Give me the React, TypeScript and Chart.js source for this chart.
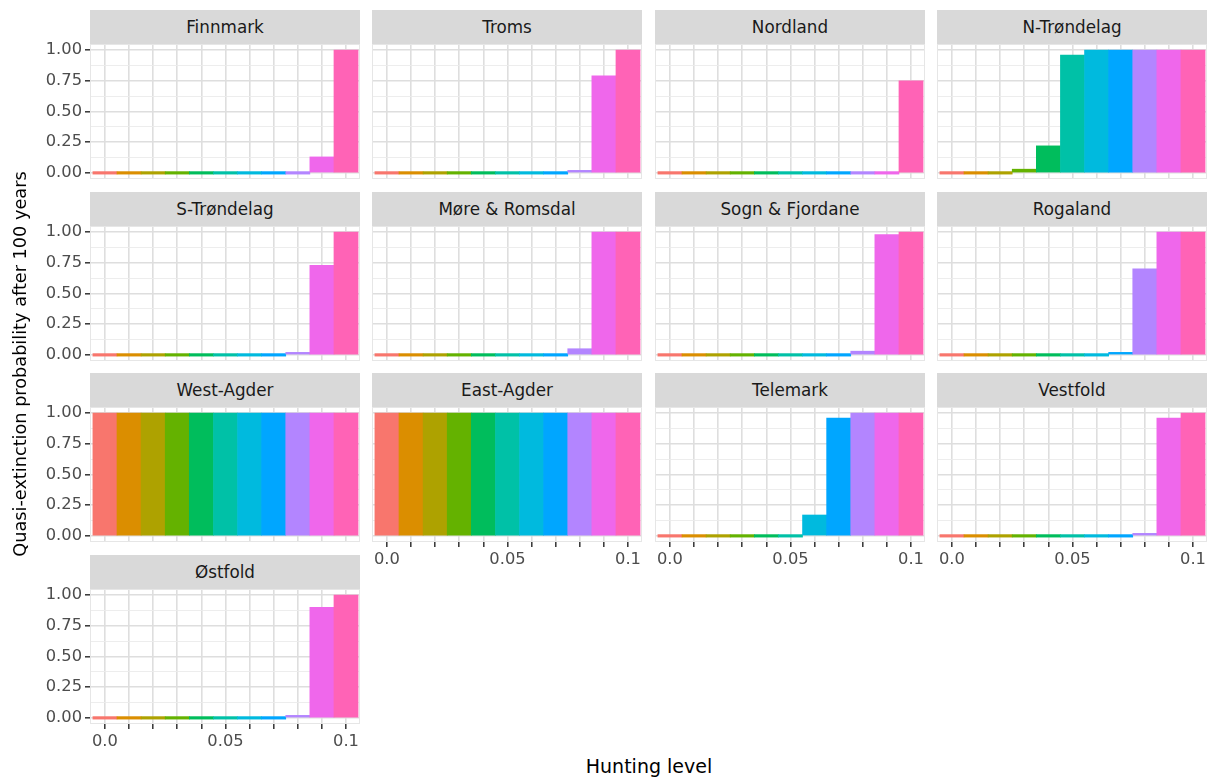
import React, { useEffect, useRef } from "react";
import { Chart, registerables } from "chart.js";

Chart.register(...registerables);

// ---------- data ----------
const LEVELS = [0, 0.01, 0.02, 0.03, 0.04, 0.05, 0.06, 0.07, 0.08, 0.09, 0.1];
const COLORS = [
  "#F8766D", "#DB8E00", "#AEA200", "#64B200", "#00BD5C", "#00C1A7",
  "#00BADE", "#00A6FF", "#B385FF", "#EF67EB", "#FF63B6",
];

const finnmark = [0, 0, 0, 0, 0, 0, 0, 0, 0, 0.13, 1.0];
const troms = [0, 0, 0, 0, 0, 0, 0, 0, 0.02, 0.79, 1.0];
const nordland = [0, 0, 0, 0, 0, 0, 0, 0, 0, 0, 0.75];
const nTrondelag = [0, 0, 0, 0.03, 0.22, 0.96, 1.0, 1.0, 1.0, 1.0, 1.0];
const sTrondelag = [0, 0, 0, 0, 0, 0, 0, 0, 0.02, 0.73, 1.0];
const moreRomsdal = [0, 0, 0, 0, 0, 0, 0, 0, 0.05, 1.0, 1.0];
const sognFjordane = [0, 0, 0, 0, 0, 0, 0, 0, 0.03, 0.98, 1.0];
const rogaland = [0, 0, 0, 0, 0, 0, 0, 0.02, 0.7, 1.0, 1.0];
const westAgder = [1, 1, 1, 1, 1, 1, 1, 1, 1, 1, 1];
const eastAgder = [1, 1, 1, 1, 1, 1, 1, 1, 1, 1, 1];
const telemark = [0, 0, 0, 0, 0, 0, 0.17, 0.96, 1.0, 1.0, 1.0];
const vestfold = [0, 0, 0, 0, 0, 0, 0, 0, 0.02, 0.96, 1.0];
const ostfold = [0, 0, 0, 0, 0, 0, 0, 0, 0.02, 0.9, 1.0];

const REGION_NAMES = [
  "Finnmark", "Troms", "Nordland", "N-Trøndelag",
  "S-Trøndelag", "Møre & Romsdal", "Sogn & Fjordane", "Rogaland",
  "West-Agder", "East-Agder", "Telemark", "Vestfold",
  "Østfold",
];
const REGION_VALUES = [
  finnmark, troms, nordland, nTrondelag,
  sTrondelag, moreRomsdal, sognFjordane, rogaland,
  westAgder, eastAgder, telemark, vestfold,
  ostfold,
];

const Y_TICKS = [0, 0.125, 0.25, 0.375, 0.5, 0.625, 0.75, 0.875, 1.0];
const X_LABEL_VALUES = [0, 0.05, 0.1];
const X_LABEL_TEXT = ["0.0", "0.05", "0.1"];

const Y_TITLE = "Quasi-extinction probability after 100 years";
const X_TITLE = "Hunting level";

// ---------- layout ----------
const NCOL = 4;
const PANEL_LEFT0 = 90;
const COL_STEP = 282.3;
const PANEL_W = 270;
const PANEL_TOP0 = 44;
const ROW_STEP = 181.7;
const PANEL_H = 135;
const STRIP_H = 34;
const YW = 60;
const XH = 32;
const PT = 10;
const PR = 14;
const FONT = "'DejaVu Sans', 'Liberation Sans', sans-serif";

const borderPlugin = {
  id: "panelBorder",
  beforeDatasetsDraw(chart: any) {
    const { ctx, chartArea } = chart;
    ctx.save();
    ctx.strokeStyle = "#E6E6E6";
    ctx.lineWidth = 1;
    ctx.strokeRect(
      chartArea.left + 0.5,
      chartArea.top + 0.5,
      chartArea.right - chartArea.left - 1,
      chartArea.bottom - chartArea.top - 1
    );
    ctx.restore();
  },
};

function Panel(props: {
  name: string;
  values: number[];
  col: number;
  row: number;
  showX: boolean;
  showY: boolean;
}) {
  const { name, values, col, row, showX, showY } = props;
  const ref = useRef<HTMLCanvasElement | null>(null);
  const panelLeft = Math.round(PANEL_LEFT0 + col * COL_STEP);
  const panelTop = Math.round(PANEL_TOP0 + row * ROW_STEP);
  const cw = YW + PANEL_W + PR;
  const ch = PT + PANEL_H + XH;

  useEffect(() => {
    if (!ref.current) return;
    const fixPad = (s: any) => {
      s.paddingLeft = 0;
      s.paddingRight = 0;
      s.paddingTop = 0;
      s.paddingBottom = 0;
    };
    const chart = new Chart(ref.current, {
      type: "bar",
      data: {
        datasets: [
          {
            data: LEVELS.map((x, i) => ({ x, y: values[i] })),
            backgroundColor: COLORS,
            borderWidth: 0,
            barPercentage: 1,
            categoryPercentage: 1,
            minBarLength: 2.5,
          } as any,
        ],
      },
      options: {
        animation: false,
        responsive: false,
        maintainAspectRatio: false,
        events: [],
        layout: { padding: { top: PT, right: PR, left: 0, bottom: 0 } },
        plugins: { legend: { display: false }, tooltip: { enabled: false } },
        scales: {
          x: {
            type: "linear",
            min: -0.0062,
            max: 0.1058,
            offset: false,
            afterBuildTicks: (s: any) => {
              s.ticks = LEVELS.map((v) => ({ value: v }));
            },
            afterFit: (s: any) => {
              s.height = XH;
              fixPad(s);
            },
            border: { display: false },
            grid: {
              offset: false,
              color: "#DEDEDE",
              lineWidth: 1.6,
              drawTicks: showX,
              tickLength: 5,
              tickColor: "#333333",
              tickWidth: 1.5,
            },
            ticks: {
              display: showX,
              autoSkip: false,
              maxRotation: 0,
              minRotation: 0,
              padding: 3,
              color: "#4D4D4D",
              font: { family: FONT, size: 16.3 },
              callback: (v: any) => {
                for (let j = 0; j < X_LABEL_VALUES.length; j++) {
                  if (Math.abs(Number(v) - X_LABEL_VALUES[j]) < 1e-9) return X_LABEL_TEXT[j];
                }
                return "";
              },
            },
          },
          y: {
            type: "linear",
            min: -0.05,
            max: 1.05,
            afterBuildTicks: (s: any) => {
              s.ticks = Y_TICKS.map((v) => ({ value: v }));
            },
            afterFit: (s: any) => {
              s.width = YW;
              fixPad(s);
            },
            border: { display: false },
            grid: {
              offset: false,
              color: (c: any) => (c.index % 2 === 0 ? "#DEDEDE" : "#EBEBEB"),
              lineWidth: (c: any) => (c.index % 2 === 0 ? 1.6 : 0.9),
              drawTicks: showY,
              tickLength: 5,
              tickColor: (c: any) => (c.index % 2 === 0 ? "#333333" : "rgba(0,0,0,0)"),
              tickWidth: 1.5,
            },
            ticks: {
              display: showY,
              autoSkip: false,
              padding: 3,
              color: "#4D4D4D",
              font: { family: FONT, size: 16.3 },
              callback: (v: any, i: number) => (i % 2 === 0 ? Number(v).toFixed(2) : ""),
            },
          },
        },
      },
      plugins: [borderPlugin],
    } as any);
    return () => chart.destroy();
  }, [values, showX, showY]);

  return (
    <>
      <div
        style={{
          position: "absolute",
          left: panelLeft,
          top: panelTop - STRIP_H,
          width: PANEL_W,
          height: STRIP_H,
          background: "#D9D9D9",
          color: "#1A1A1A",
          fontFamily: FONT,
          fontSize: 16.8,
          lineHeight: STRIP_H + "px",
          textAlign: "center",
        }}
      >
        {name}
      </div>
      <canvas
        ref={ref}
        width={cw}
        height={ch}
        style={{
          position: "absolute",
          left: panelLeft - YW,
          top: panelTop - PT,
          width: cw,
          height: ch,
        }}
      />
    </>
  );
}

export default function App() {
  const n = REGION_NAMES.length;
  return (
    <div
      style={{
        position: "absolute",
        left: 0,
        top: 0,
        width: 1215,
        height: 780,
        background: "#FFFFFF",
        overflow: "hidden",
      }}
    >
      {REGION_NAMES.map((name, i) => {
        const col = i % NCOL;
        const row = Math.floor(i / NCOL);
        const showX = i + NCOL >= n;
        const showY = col === 0;
        return (
          <Panel
            key={name}
            name={name}
            values={REGION_VALUES[i]}
            col={col}
            row={row}
            showX={showX}
            showY={showY}
          />
        );
      })}
      <div
        style={{
          position: "absolute",
          left: 649 - 200,
          top: 754,
          width: 400,
          textAlign: "center",
          fontFamily: FONT,
          fontSize: 19,
          color: "#000",
          lineHeight: "24px",
        }}
      >
        {X_TITLE}
      </div>
      <div
        style={{
          position: "absolute",
          left: 20 - 250,
          top: 364 - 12,
          width: 500,
          height: 24,
          lineHeight: "24px",
          textAlign: "center",
          fontFamily: FONT,
          fontSize: 17.7,
          color: "#000",
          transform: "rotate(-90deg)",
          transformOrigin: "50% 50%",
          whiteSpace: "nowrap",
        }}
      >
        {Y_TITLE}
      </div>
    </div>
  );
}
